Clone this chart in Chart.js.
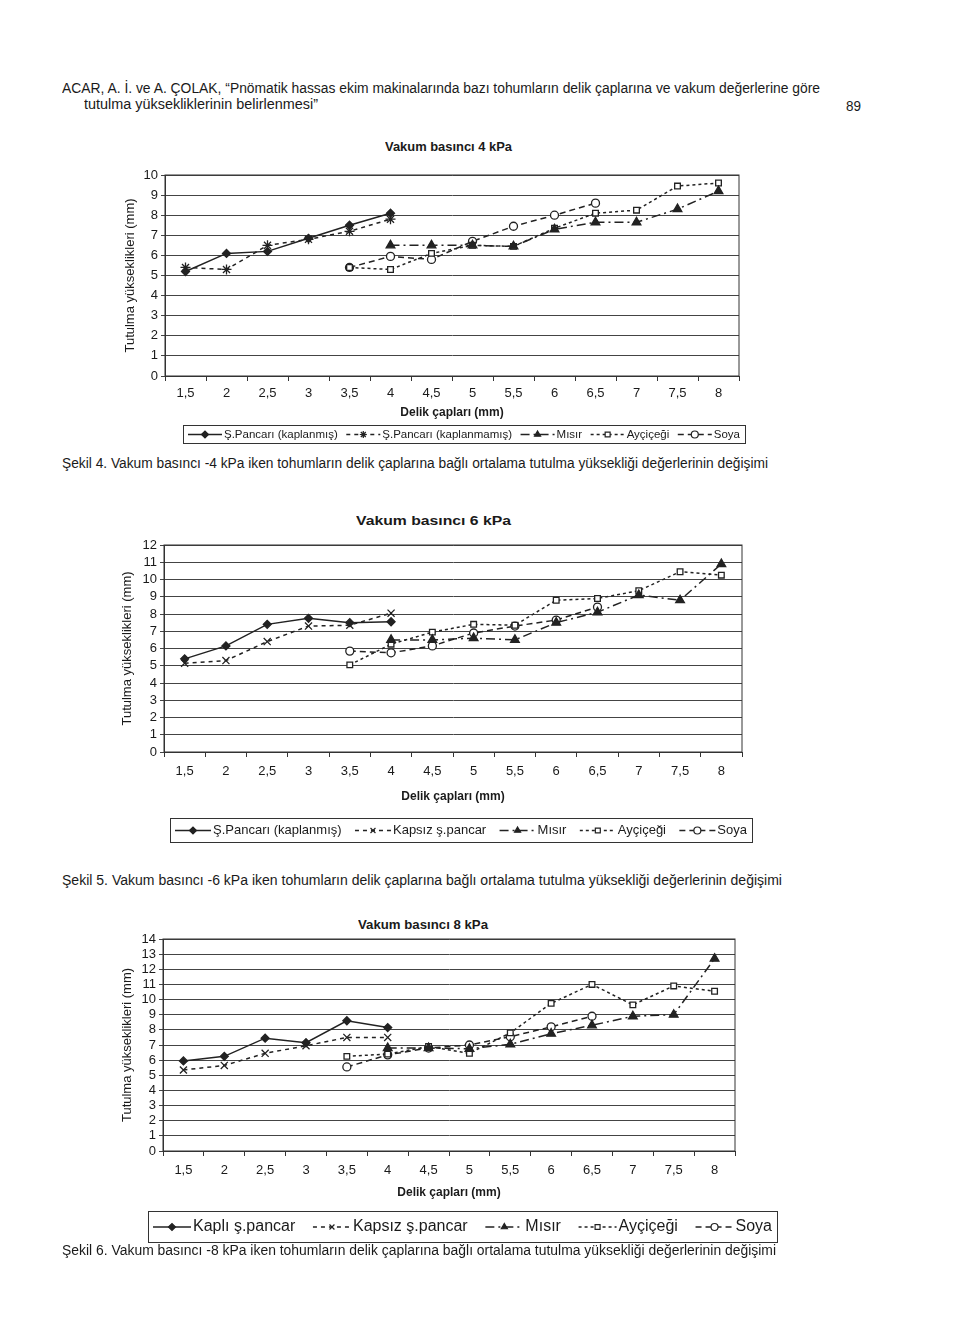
<!DOCTYPE html>
<html lang="tr">
<head>
<meta charset="utf-8">
<title>Delik çapı - tutulma yüksekliği</title>
<script src="https://cdn.jsdelivr.net/npm/chart.js@4.4.0/dist/chart.umd.min.js"></script>
<style>
  html, body { margin: 0; padding: 0; background: #fff; }
  #sayfa { position: relative; width: 960px; height: 1327px; overflow: hidden;
           font-family: "Liberation Sans Narrow", "Liberation Sans", Arial, sans-serif; color: #1a1a1a; }
  .yazi { position: absolute; white-space: nowrap; transform-origin: 0 50%; }
  .kalin { font-family: "Liberation Sans", Arial, sans-serif; font-weight: bold; }
  canvas { position: absolute; left: 0; }
</style>
</head>
<body>
<div id="sayfa">
  <div class="yazi" data-x="62" data-y="88" data-w="758" data-s="14">ACAR, A. İ. ve A. ÇOLAK, “Pnömatik hassas ekim makinalarında bazı tohumların delik çaplarına ve vakum değerlerine göre</div>
  <div class="yazi" data-x="84" data-y="104" data-w="234" data-s="14">tutulma yüksekliklerinin belirlenmesi”</div>
  <div class="yazi" data-x="846" data-y="106" data-w="15" data-s="14">89</div>

  <div class="yazi kalin" data-x="385" data-y="147" data-w="127" data-s="12">Vakum basıncı 4 kPa</div>
  <canvas id="grafik4" width="960" height="290" style="top:160px"></canvas>
  <div class="yazi" data-x="62" data-y="463" data-w="706" data-s="14">Şekil 4. Vakum basıncı -4 kPa iken tohumların delik çaplarına bağlı ortalama tutulma yüksekliği değerlerinin değişimi</div>

  <div class="yazi kalin" data-x="356" data-y="520" data-w="155" data-s="13">Vakum basıncı 6 kPa</div>
  <canvas id="grafik6" width="960" height="320" style="top:530px"></canvas>
  <div class="yazi" data-x="62" data-y="880" data-w="720" data-s="14">Şekil 5. Vakum basıncı -6 kPa iken tohumların delik çaplarına bağlı ortalama tutulma yüksekliği değerlerinin değişimi</div>

  <div class="yazi kalin" data-x="358" data-y="924" data-w="130" data-s="13">Vakum basıncı 8 kPa</div>
  <canvas id="grafik8" width="960" height="325" style="top:925px"></canvas>
  <div class="yazi" data-x="62" data-y="1250" data-w="714" data-s="14">Şekil 6. Vakum basıncı -8 kPa iken tohumların delik çaplarına bağlı ortalama tutulma yüksekliği değerlerinin değişimi</div>
</div>

<script>
// Delik çapları (mm)
const caplar = ["1,5", "2", "2,5", "3", "3,5", "4", "4,5", "5", "5,5", "6", "6,5", "7", "7,5", "8"];

// Vakum 4 kPa
const kaplanmis4   = [5.2, 6.1, 6.2, 6.85, 7.5, 8.1, null, null, null, null, null, null, null, null];
const kaplanmamis4 = [5.4, 5.3, 6.5, 6.8, 7.2, 7.8, null, null, null, null, null, null, null, null];
const misir4       = [null, null, null, null, null, 6.5, 6.5, 6.5, 6.45, 7.3, 7.65, 7.65, 8.3, 9.2];
const aycicegi4    = [null, null, null, null, 5.4, 5.3, 6.1, 6.5, 6.45, 7.35, 8.1, 8.25, 9.45, 9.6];
const soya4        = [null, null, null, null, 5.4, 5.95, 5.8, 6.7, 7.45, 8.0, 8.6, null, null, null];

// Vakum 6 kPa
const kaplanmis6 = [5.4, 6.15, 7.4, 7.75, 7.5, 7.55, null, null, null, null, null, null, null, null];
const kapsiz6    = [5.15, 5.3, 6.4, 7.3, 7.35, 8.05, null, null, null, null, null, null, null, null];
const misir6     = [null, null, null, null, null, 6.5, 6.5, 6.6, 6.5, 7.5, 8.1, 9.1, 8.8, 10.9];
const aycicegi6  = [null, null, null, null, 5.05, 6.25, 6.95, 7.4, 7.35, 8.8, 8.9, 9.35, 10.45, 10.25];
const soya6      = [null, null, null, null, 5.85, 5.75, 6.15, 6.9, 7.3, 7.65, 8.4, null, null, null];

// Vakum 8 kPa
const kapli8    = [5.95, 6.25, 7.45, 7.15, 8.6, 8.15, null, null, null, null, null, null, null, null];
const kapsiz8   = [5.35, 5.65, 6.45, 6.95, 7.5, 7.5, null, null, null, null, null, null, null, null];
const misir8    = [null, null, null, null, null, 6.8, 6.8, 6.75, 7.05, 7.75, 8.3, 8.9, 9.0, 12.7];
const aycicegi8 = [null, null, null, null, 6.25, 6.4, 6.9, 6.45, 7.8, 9.75, 11.0, 9.65, 10.9, 10.55];
const soya8     = [null, null, null, null, 5.55, 6.35, 6.8, 7.0, 7.55, 8.2, 8.9, null, null, null];

const MUREKKEP = "#222";
const YAZI = "'Liberation Sans', Arial, sans-serif";

// Seri çizgi/işaret stilleri
const stiller = {
  kaplanmis: { dash: [], nokta: "rectRot", r: 4, dolgu: MUREKKEP },
  kaplanmamis: { dash: [4, 4], nokta: "crossRot", r: 5, dolgu: MUREKKEP },
  misir: { dash: [9, 4, 2, 4], nokta: "triangle", r: 5, dolgu: MUREKKEP },
  aycicegi: { dash: [3, 3], nokta: "rect", r: 4, dolgu: "#fff" },
  soya: { dash: [6, 4], nokta: "circle", r: 4, dolgu: "#fff" },
};

const seri = (etiket, veri, stil, nokta) => ({
  label: etiket,
  data: veri,
  borderColor: MUREKKEP,
  borderWidth: 1.5,
  borderDash: stil.dash,
  pointStyle: nokta || stil.nokta,
  pointRadius: stil.r,
  pointBorderWidth: 1.3,
  pointBorderColor: MUREKKEP,
  pointBackgroundColor: stil.dolgu,
  spanGaps: false,
  tension: 0,
});

// Çizim alanının çerçevesi
const cerceve = {
  id: "cerceve",
  beforeDatasetsDraw(chart) {
    const { ctx, chartArea: a } = chart;
    ctx.save();
    ctx.strokeStyle = "#333";
    ctx.lineWidth = 1;
    ctx.strokeRect(a.left, a.top, a.width, a.height);
    ctx.restore();
  },
};

// Alt taraftaki kutulu açıklama
const kutuLegend = {
  id: "kutuLegend",
  afterDraw(chart, args, o) {
    const ctx = chart.ctx;
    const seriler = chart.data.datasets;
    ctx.save();
    ctx.strokeStyle = "#333";
    ctx.lineWidth = 1;
    ctx.strokeRect(o.x + 0.5, o.y + 0.5, o.w, o.h);
    ctx.font = o.boyut + "px 'Liberation Sans Narrow', 'Liberation Sans', Arial, sans-serif";
    ctx.textBaseline = "middle";
    const ornek = o.ornek;
    const genislik = seriler.map((d) => ctx.measureText(d.label).width);
    const toplam = genislik.reduce((a, b) => a + b, 0) + seriler.length * (ornek + 2);
    const bosluk = (o.w - 10 - toplam) / (seriler.length - 1);
    const cy = o.y + o.h / 2 + 0.5;
    let x = o.x + 5;
    seriler.forEach((d, i) => {
      ctx.strokeStyle = d.borderColor;
      ctx.lineWidth = d.borderWidth;
      ctx.setLineDash(d.borderDash);
      ctx.beginPath();
      ctx.moveTo(x, cy);
      ctx.lineTo(x + ornek, cy);
      ctx.stroke();
      ctx.setLineDash([]);
      ctx.fillStyle = d.pointBackgroundColor;
      ctx.strokeStyle = d.pointBorderColor;
      ctx.lineWidth = 1.2;
      Chart.helpers.drawPoint(ctx, { pointStyle: d.pointStyle, radius: Math.min(d.pointRadius, 3.5), rotation: 0, borderWidth: 1.2 }, x + ornek / 2, cy);
      ctx.fillStyle = "#1a1a1a";
      ctx.fillText(d.label, x + ornek + 2, cy);
      x += ornek + 2 + genislik[i] + bosluk;
    });
    ctx.restore();
  },
};

const grafikCiz = (id, seriler, ayar) => {
  const ctx = document.getElementById(id).getContext("2d");
  new Chart(ctx, {
    type: "line",
    data: { labels: caplar, datasets: seriler },
    options: {
      responsive: false,
      animation: false,
      devicePixelRatio: 1,
      layout: { padding: ayar.padding },
      plugins: {
        legend: { display: false },
        title: { display: false },
        tooltip: { enabled: false },
        kutuLegend: ayar.legend,
      },
      scales: {
        x: {
          offset: true,
          grid: { offset: true, drawOnChartArea: false, drawTicks: true, tickLength: 5, color: "#333" },
          border: { color: "#333" },
          ticks: { color: "#1a1a1a", font: { family: YAZI, size: 13 }, padding: ayar.xPad, maxRotation: 0, autoSkip: false },
          title: { display: true, text: "Delik çapları (mm)", color: "#1a1a1a", font: { family: YAZI, size: 12, weight: "bold" }, padding: 0 },
          afterFit: (s) => { s.height = ayar.xYukseklik; },
        },
        y: {
          min: 0,
          max: ayar.yMax,
          ticks: { stepSize: 1, autoSkip: false, color: "#1a1a1a", font: { family: YAZI, size: 13 }, padding: 3 },
          grid: { color: "#444", tickLength: 4 },
          border: { color: "#333" },
          title: { display: true, text: "Tutulma yükseklikleri (mm)", color: "#1a1a1a", font: { family: YAZI, size: 13 }, padding: { top: ayar.yBaslikX - 7.8, bottom: 0 } },
          afterFit: (s) => { s.width = ayar.solKenar; },
        },
      },
    },
    plugins: [cerceve, kutuLegend],
  });
};

grafikCiz("grafik4", [
  seri("Ş.Pancarı (kaplanmış)", kaplanmis4, stiller.kaplanmis),
  seri("Ş.Pancarı (kaplanmamış)", kaplanmamis4, stiller.kaplanmamis, "star"),
  seri("Mısır", misir4, stiller.misir),
  seri("Ayçiçeği", aycicegi4, stiller.aycicegi),
  seri("Soya", soya4, stiller.soya),
], {
  padding: { top: 15, right: 221, bottom: 29.8, left: 0 },
  solKenar: 165, xYukseklik: 44.2, xPad: 5, yMax: 10, yBaslikX: 130,
  legend: { x: 183, y: 265, w: 562, h: 18, boyut: 11.5, ornek: 34 },
});

grafikCiz("grafik6", [
  seri("Ş.Pancarı (kaplanmış)", kaplanmis6, stiller.kaplanmis),
  seri("Kapsız ş.pancar", kapsiz6, stiller.kaplanmamis),
  seri("Mısır", misir6, stiller.misir),
  seri("Ayçiçeği", aycicegi6, stiller.aycicegi),
  seri("Soya", soya6, stiller.soya),
], {
  padding: { top: 15, right: 218, bottom: 45.8, left: 0 },
  solKenar: 164, xYukseklik: 52.2, xPad: 7, yMax: 12, yBaslikX: 127,
  legend: { x: 170, y: 288, w: 582, h: 24, boyut: 13, ornek: 36 },
});

grafikCiz("grafik8", [
  seri("Kaplı ş.pancar", kapli8, stiller.kaplanmis),
  seri("Kapsız ş.pancar", kapsiz8, stiller.kaplanmamis),
  seri("Mısır", misir8, stiller.misir),
  seri("Ayçiçeği", aycicegi8, stiller.aycicegi),
  seri("Soya", soya8, stiller.soya),
], {
  padding: { top: 14, right: 225, bottom: 49.8, left: 0 },
  solKenar: 163, xYukseklik: 49.2, xPad: 7, yMax: 14, yBaslikX: 127,
  legend: { x: 148, y: 286, w: 629, h: 31, boyut: 16, ornek: 38 },
});

// Sayfa yazılarını yerleştir, genişliğe sığdır
document.querySelectorAll(".yazi").forEach((el) => {
  const s = +el.dataset.s;
  el.style.fontSize = s + "px";
  el.style.lineHeight = s + "px";
  el.style.left = el.dataset.x + "px";
  el.style.top = (+el.dataset.y - s / 2) + "px";
  const g = el.getBoundingClientRect().width;
  el.style.transform = `scaleX(${(+el.dataset.w / g).toFixed(4)})`;
});
</script>
</body>
</html>
